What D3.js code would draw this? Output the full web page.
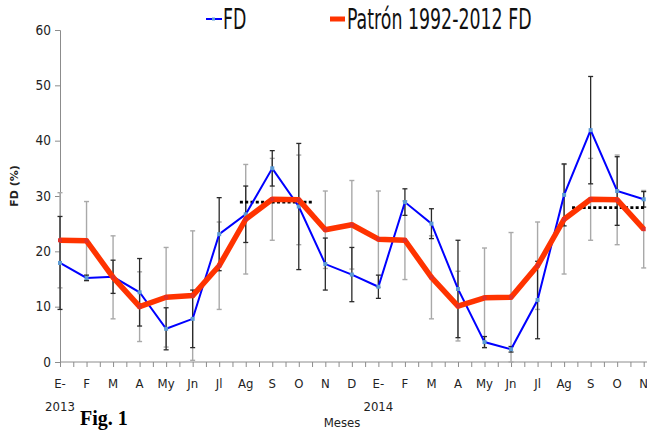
<!DOCTYPE html>
<html>
<head>
<meta charset="utf-8">
<script src="https://cdn.jsdelivr.net/npm/d3@7"></script>
<style>
  body { margin: 0; background: #fff; }
  svg { display: block; }
</style>
</head>
<body>
<div id="chart"></div>
<script>
// month labels, two years (E- = enero)
const months = ['E-','F','M','A','My','Jn','Jl','Ag','S','O','N','D','E-','F','M','A','My','Jn','Jl','Ag','S','O','N'];
const years = [{i: 0, label: '2013'}, {i: 12, label: '2014'}];

// FD observed 2013-2014 and its sd
const fd = [17.9, 15.2, 15.4, 12.6, 6.0, 7.8, 23.1, 26.7, 35.0, 28.1, 17.7, 15.8,
            13.6, 28.9, 25.0, 13.2, 3.6, 2.3, 11.2, 30.2, 41.9, 30.9, 29.4];
const fdSd = [8.4, 0.5, 3.0, 6.1, 3.8, 5.2, 6.6, 5.1, 3.2, 11.4, 4.7, 4.9,
              2.1, 2.4, 2.7, 8.8, 1.0, 0.5, 7.0, 5.6, 9.7, 6.2, 1.4];

// pattern 1992-2012 (same 12 months repeated) and its sd
const patron = [22.0, 21.9, 15.3, 10.0, 11.7, 12.0, 17.4, 25.8, 29.4, 29.3, 23.9, 24.8,
                22.2, 22.0, 15.3, 10.1, 11.6, 11.7, 17.4, 25.8, 29.4, 29.3, 24.0];
const patronSd = [8.6, 7.1, 7.5, 6.3, 9.0, 11.7, 7.9, 9.9, 7.4, 8.1, 7.0, 8.0,
                  8.7, 7.1, 7.5, 6.3, 9.0, 11.7, 7.9, 9.9, 7.4, 8.1, 7.0];

// dotted reference segments (month index from/to, value)
const refLines = [{from: 6.78, to: 9.5, value: 28.9}, {from: 19.3, to: 22.05, value: 27.9}];

const yTicks = [0, 10, 20, 30, 40, 50, 60];

const width = 647, height = 430;
const svg = d3.select('#chart').append('svg')
  .attr('width', width).attr('height', height);

const x = d3.scaleLinear().domain([0, months.length - 1]).range([60, 643.7]);
const y = d3.scaleLinear().domain([0, 60]).range([362, 30]);

const narrow = '"Liberation Sans Narrow", "DejaVu Sans Condensed", sans-serif';
const axisColor = '#8c8c8c';

// y axis
const yAxis = svg.append('g').attr('transform', `translate(${x(0)},0)`)
  .call(d3.axisLeft(y).tickValues(yTicks).tickSize(5).tickPadding(4));
yAxis.select('.domain').attr('stroke', axisColor);
yAxis.selectAll('.tick line').attr('stroke', axisColor);
yAxis.selectAll('.tick text').attr('font-family', narrow).attr('font-size', 13.5).attr('fill', '#222');

// x axis: ticks at every half month
const halfSteps = d3.range(0, months.length - 0.5 + 0.01, 0.5);
const xAxis = svg.append('g').attr('transform', `translate(0,${y(0)})`)
  .call(d3.axisBottom(x).tickValues(halfSteps).tickSize(5).tickFormat(''));
xAxis.select('.domain').attr('stroke', axisColor).attr('d', `M${x(0)},0H${width}`);
xAxis.selectAll('.tick line').attr('stroke', axisColor);

svg.append('g').selectAll('text').data(months).join('text')
  .attr('x', (d, i) => x(i)).attr('y', 388)
  .attr('text-anchor', 'middle')
  .attr('font-family', narrow).attr('font-size', 13).attr('fill', '#222')
  .text(d => d);

svg.append('g').selectAll('text').data(years).join('text')
  .attr('x', d => x(d.i)).attr('y', 411)
  .attr('text-anchor', 'middle')
  .attr('font-family', narrow).attr('font-size', 13).attr('fill', '#222')
  .text(d => d.label);

svg.append('text').attr('x', 342).attr('y', 427).attr('text-anchor', 'middle')
  .attr('font-family', narrow).attr('font-size', 13).attr('fill', '#222')
  .text('Meses');

svg.append('text')
  .attr('transform', 'translate(18, 186) rotate(-90)')
  .attr('text-anchor', 'middle')
  .attr('font-family', '"DejaVu Sans", sans-serif').attr('font-size', 11).attr('font-weight', 'bold')
  .attr('fill', '#222')
  .text('FD (%)');

// error bars
function errorBars(vals, sds, color, w) {
  const g = svg.append('g').attr('stroke', color).attr('stroke-width', w);
  vals.forEach((v, i) => {
    const top = y(Math.min(60, v + sds[i])), bot = y(Math.max(0, v - sds[i]));
    g.append('line').attr('x1', x(i)).attr('x2', x(i)).attr('y1', top).attr('y2', bot);
    g.append('line').attr('x1', x(i) - 2.5).attr('x2', x(i) + 2.5).attr('y1', top).attr('y2', top);
    g.append('line').attr('x1', x(i) - 2.5).attr('x2', x(i) + 2.5).attr('y1', bot).attr('y2', bot);
  });
}
errorBars(patron, patronSd, '#a9a9a9', 1.4);
errorBars(fd, fdSd, '#2a2a2a', 1.3);

// dotted reference lines
svg.append('g').selectAll('line').data(refLines).join('line')
  .attr('x1', d => x(d.from)).attr('x2', d => x(d.to))
  .attr('y1', d => y(d.value)).attr('y2', d => y(d.value))
  .attr('stroke', '#000').attr('stroke-width', 2.6).attr('stroke-dasharray', '3,2.3');

const line = d3.line().x((d, i) => x(i)).y(d => y(d));

// FD series
svg.append('path').datum(fd).attr('d', line)
  .attr('fill', 'none').attr('stroke', '#0000ff').attr('stroke-width', 2);
svg.append('g').selectAll('rect').data(fd).join('rect')
  .attr('x', (d, i) => x(i) - 2).attr('y', d => y(d) - 2)
  .attr('width', 4).attr('height', 4).attr('fill', '#5b9bd5');

// pattern series
svg.append('path').datum(patron).attr('d', line)
  .attr('fill', 'none').attr('stroke', '#ff3300').attr('stroke-width', 5.5)
  .attr('stroke-linejoin', 'round');
svg.append('g').selectAll('rect').data(patron).join('rect')
  .attr('x', (d, i) => x(i) - 2).attr('y', d => y(d) - 2)
  .attr('width', 4).attr('height', 4).attr('fill', '#e0302a');

// legend
const legend = svg.append('g');
legend.append('line').attr('x1', 206).attr('x2', 222).attr('y1', 19).attr('y2', 19)
  .attr('stroke', '#0000ff').attr('stroke-width', 2);
legend.append('rect').attr('x', 212).attr('y', 17.5).attr('width', 3).attr('height', 3).attr('fill', '#5b9bd5');
legend.append('text').attr('transform', 'translate(223,29) scale(0.69,1)')
  .attr('font-family', narrow).attr('font-size', 28).attr('fill', '#111')
  .text('FD');
legend.append('line').attr('x1', 330).attr('x2', 345).attr('y1', 19).attr('y2', 19)
  .attr('stroke', '#ff3300').attr('stroke-width', 5);
legend.append('text').attr('transform', 'translate(347,29) scale(0.69,1)')
  .attr('font-family', narrow).attr('font-size', 28).attr('fill', '#111')
  .text('Patrón 1992-2012 FD');

// caption
svg.append('text').attr('x', 80).attr('y', 425)
  .attr('font-family', '"Liberation Serif", "DejaVu Serif", serif')
  .attr('font-size', 20).attr('font-weight', 'bold').attr('fill', '#000')
  .text('Fig. 1');
</script>
</body>
</html>
